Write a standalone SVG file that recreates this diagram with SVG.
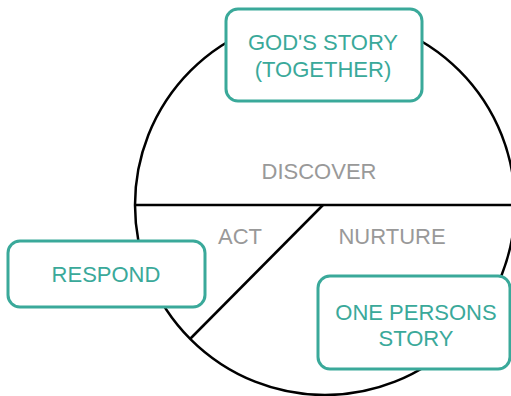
<svg xmlns="http://www.w3.org/2000/svg" width="511" height="396" viewBox="0 0 511 396">
<style>
.box{fill:#fff;stroke:#3aa99a;stroke-width:3}
.bt{font-family:"Liberation Sans",Arial,sans-serif;font-size:22px;fill:#3aa99a;text-anchor:middle}
.lb{font-family:"Liberation Sans",Arial,sans-serif;font-size:22px;fill:#999;text-anchor:middle}
.ln{fill:none;stroke:#000;stroke-width:2.5}
</style>
<rect width="511" height="396" fill="#fff"/>
<g id="connectors">
<circle class="ln" cx="325" cy="205" r="190"/>
<line class="ln" x1="135" y1="205" x2="515" y2="205"/>
<line class="ln" x1="323" y1="205" x2="190" y2="339"/>
</g>
<g id="labels">
<text class="lb" x="319" y="179">DISCOVER</text>
<text class="lb" x="240" y="244">ACT</text>
<text class="lb" x="392" y="244">NURTURE</text>
</g>
<g id="gods-story">
<rect class="box" x="226" y="9" width="196" height="92" rx="12"/>
<text class="bt" x="323" y="50">GOD'S STORY</text>
<text class="bt" x="323" y="77">(TOGETHER)</text>
</g>
<g id="respond">
<rect class="box" x="8" y="241" width="197" height="66" rx="12"/>
<text class="bt" x="106" y="282">RESPOND</text>
</g>
<g id="one-persons-story">
<rect class="box" x="318" y="276" width="192" height="93" rx="12"/>
<text class="bt" x="416" y="320">ONE PERSONS</text>
<text class="bt" x="416" y="346">STORY</text>
</g>
</svg>
